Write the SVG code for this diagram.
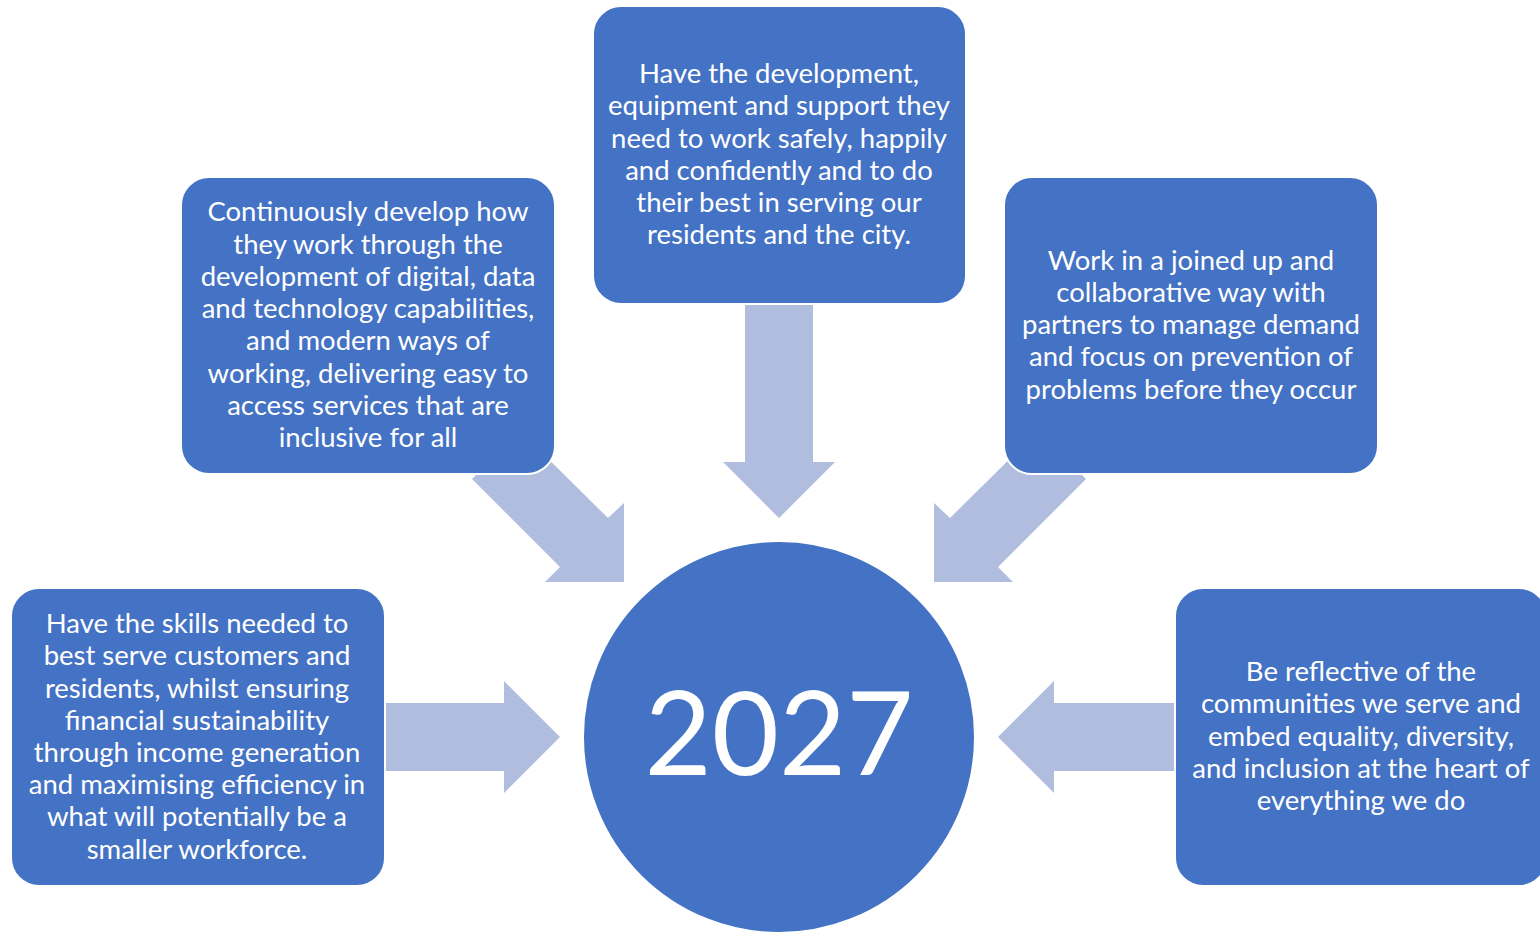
<svg xmlns="http://www.w3.org/2000/svg" width="1540" height="933" viewBox="0 0 1540 933">
<style>
.box{fill:#4472C4;stroke:#FFFFFF;stroke-width:2}
.arr{fill:#B0BDDF}
.t{font-family:Lato,"Liberation Sans",sans-serif;font-size:27.5px;fill:#FFFFFF;text-anchor:middle}
.big{font-family:Lato,"Liberation Sans",sans-serif;font-size:116px;fill:#FFFFFF;text-anchor:middle}
</style>
<rect width="1540" height="933" fill="#FFFFFF"/>
<g id="connectors">
<polygon class="arr" points="745,290 813,290 813,462 835,462 779,518 723,462 745,462"/>
<polygon class="arr" points="370,703 504,703 504,681 560,737 504,793 504,771 370,771"/>
<polygon class="arr" points="1190,703 1054,703 1054,681 998,737 1054,793 1054,771 1190,771"/>
<polygon class="arr" points="472,479 520,431 608,518 624,503 624,582 545,582 560,567"/>
<polygon class="arr" points="1086,479 1038,431 950,518 934,503 934,582 1013,582 998,567"/>
</g>
<g id="node-top">
<rect class="box" x="593" y="6" width="373" height="298" rx="28"/>
<text class="t" x="779"><tspan x="779" y="83">Have the development,</tspan><tspan x="779" y="115">equipment and support they</tspan><tspan x="779" y="148">need to work safely, happily</tspan><tspan x="779" y="180">and confidently and to do</tspan><tspan x="779" y="212">their best in serving our</tspan><tspan x="779" y="244">residents and the city.</tspan></text>
</g>
<g id="node-left-mid">
<rect class="box" x="181" y="177" width="374" height="297" rx="28"/>
<text class="t"><tspan x="368" y="221">Continuously develop how</tspan><tspan x="368" y="254">they work through the</tspan><tspan x="368" y="286">development of digital, data</tspan><tspan x="368" y="318">and technology capabilities,</tspan><tspan x="368" y="350">and modern ways of</tspan><tspan x="368" y="383">working, delivering easy to</tspan><tspan x="368" y="415">access services that are</tspan><tspan x="368" y="447">inclusive for all</tspan></text>
</g>
<g id="node-right-mid">
<rect class="box" x="1004" y="177" width="374" height="297" rx="28"/>
<text class="t"><tspan x="1191" y="270">Work in a joined up and</tspan><tspan x="1191" y="302">collaborative way with</tspan><tspan x="1191" y="334">partners to manage demand</tspan><tspan x="1191" y="366">and focus on prevention of</tspan><tspan x="1191" y="399">problems before they occur</tspan></text>
</g>
<g id="node-bottom-left">
<rect class="box" x="11" y="588" width="374" height="298" rx="28"/>
<text class="t"><tspan x="197" y="633">Have the skills needed to</tspan><tspan x="197" y="665">best serve customers and</tspan><tspan x="197" y="698">residents, whilst ensuring</tspan><tspan x="197" y="730">financial sustainability</tspan><tspan x="197" y="762">through income generation</tspan><tspan x="197" y="794">and maximising efficiency in</tspan><tspan x="197" y="826">what will potentially be a</tspan><tspan x="197" y="859">smaller workforce.</tspan></text>
</g>
<g id="node-bottom-right">
<rect class="box" x="1175" y="588" width="372" height="298" rx="28"/>
<text class="t"><tspan x="1361" y="681">Be reflective of the</tspan><tspan x="1361" y="713">communities we serve and</tspan><tspan x="1361" y="746">embed equality, diversity,</tspan><tspan x="1361" y="778">and inclusion at the heart of</tspan><tspan x="1361" y="810">everything we do</tspan></text>
</g>
<g id="node-center">
<circle cx="779" cy="737" r="196" fill="#4472C4" stroke="#FFFFFF" stroke-width="2"/>
<text class="big" x="779" y="775">2027</text>
</g>
</svg>
